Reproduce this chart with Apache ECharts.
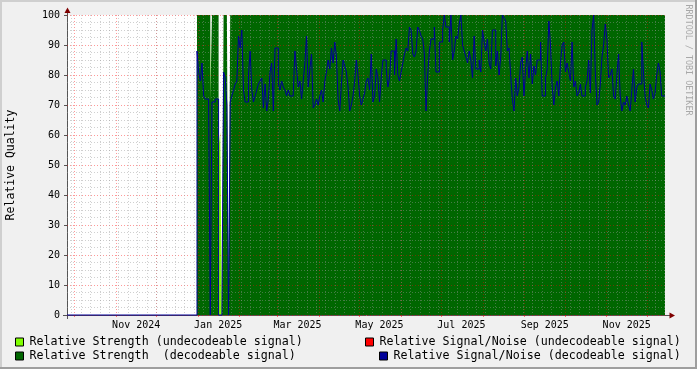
<!DOCTYPE html>
<html><head><meta charset="utf-8">
<script src="https://cdn.jsdelivr.net/npm/echarts@6/dist/echarts.min.js"></script>
<style>html,body{margin:0;padding:0;background:#F0F0F0}#c{width:697px;height:369px}</style>
</head><body><div id="c"></div>
<script>
// ---- time frame ----
const axisStart = '2024-09-25T12:00';
const axisEnd = '2025-12-14T12:00';
const firstSample = '2024-12-31T06:00';
const sampleHours = 29.64;

// ---- series values (one per sample) ----
const snBeforeData = 0;
const snDecodeable = [
 88,81,78,84,73,72,72,71,0,71,
 71,72,72,0,0,0,81,79,70,0,
 71,73,75,77,78,93,89,95,75,71,
 71,80,88,75,71,73,75,77,78,79,
 69,77,68,72,81,84,68,89,89,77,
 75,78,76,75,73,75,73,73,74,88,
 82,76,78,72,78,84,93,76,82,87,
 69,70,72,70,73,75,71,78,81,85,
 82,89,84,91,86,72,68,77,85,83,
 81,76,68,70,73,78,85,80,73,70,
 72,74,78,79,75,87,71,73,82,79,
 71,79,85,85,82,76,79,88,88,80,
 92,80,78,81,84,87,89,88,96,95,
 87,86,88,96,95,93,92,87,68,80,
 88,92,92,96,81,81,91,91,95,100,
 96,96,91,100,85,88,93,92,97,100,
 90,88,86,84,88,85,79,93,82,82,
 85,81,95,91,88,92,84,82,95,95,
 83,88,80,86,100,99,98,88,89,80,
 72,68,79,73,76,84,86,73,82,88,
 79,87,77,83,80,85,85,91,73,73,
 79,82,98,90,76,70,76,78,73,84,
 90,91,81,84,81,78,91,76,78,73,
 74,77,73,73,76,78,85,74,95,100,
 81,70,71,77,86,90,97,92,79,80,
 82,73,72,80,87,73,68,71,70,73,
 70,68,75,82,71,76,77,77,91,81,
 73,70,69,77,75,72,74,80,84,81,
 73,73
];
const strengthDecodeable = [
 100,100,100,100,100,100,100,100,71,100,
 100,100,100,0,0,0,100,100,100,0,
 100,100,100,100,100,100,100,100,100,100,
 100,100,100,100,100,100,100,100,100,100,
 100,100,100,100,100,100,100,100,100,100,
 100,100,100,100,100,100,100,100,100,100,
 100,100,100,100,100,100,100,100,100,100,
 100,100,100,100,100,100,100,100,100,100,
 100,100,100,100,100,100,100,100,100,100,
 100,100,100,100,100,100,100,100,100,100,
 100,100,100,100,100,100,100,100,100,100,
 100,100,100,100,100,100,100,100,100,100,
 100,100,100,100,100,100,100,100,100,100,
 100,100,100,100,100,100,100,100,100,100,
 100,100,100,100,100,100,100,100,100,100,
 100,100,100,100,100,100,100,100,100,100,
 100,100,100,100,100,100,100,100,100,100,
 100,100,100,100,100,100,100,100,100,100,
 100,100,100,100,100,100,100,100,100,100,
 100,100,100,100,100,100,100,100,100,100,
 100,100,100,100,100,100,100,100,100,100,
 100,100,100,100,100,100,100,100,100,100,
 100,100,100,100,100,100,100,100,100,100,
 100,100,100,100,100,100,100,100,100,100,
 100,100,100,100,100,100,100,100,100,100,
 100,100,100,100,100,100,100,100,100,100,
 100,100,100,100,100,100,100,100,100,100,
 100,100,100,100,100,100,100,100,100,100,
 100,100
];
const strengthUndecodeable = [
 0,0,0,0,0,0,0,0,100,0,
 0,0,0,56,61,0,0,0,0,0,
 0,0,0,0,0,0,0,0,0,0, 0,0,0,0,0,0,0,0,0,0,
 0,0,0,0,0,0,0,0,0,0, 0,0,0,0,0,0,0,0,0,0,
 0,0,0,0,0,0,0,0,0,0, 0,0,0,0,0,0,0,0,0,0,
 0,0,0,0,0,0,0,0,0,0, 0,0,0,0,0,0,0,0,0,0,
 0,0,0,0,0,0,0,0,0,0, 0,0,0,0,0,0,0,0,0,0,
 0,0,0,0,0,0,0,0,0,0, 0,0,0,0,0,0,0,0,0,0,
 0,0,0,0,0,0,0,0,0,0, 0,0,0,0,0,0,0,0,0,0,
 0,0,0,0,0,0,0,0,0,0, 0,0,0,0,0,0,0,0,0,0,
 0,0,0,0,0,0,0,0,0,0, 0,0,0,0,0,0,0,0,0,0,
 0,0,0,0,0,0,0,0,0,0, 0,0,0,0,0,0,0,0,0,0,
 0,0,0,0,0,0,0,0,0,0, 0,0,0,0,0,0,0,0,0,0,
 0,0,0,0,0,0,0,0,0,0, 0,0,0,0,0,0,0,0,0,0,
 0,0
];
const snUndecodeable = [];

// ---- axis ticks / labels ----
const monthStarts = ['2024-10-01','2024-11-01','2024-12-01','2025-01-01','2025-02-01','2025-03-01','2025-04-01','2025-05-01','2025-06-01','2025-07-01','2025-08-01','2025-09-01','2025-10-01','2025-11-01','2025-12-01'];
const labelDates = ['2024-11-16','2025-01-16','2025-03-16','2025-05-16','2025-07-16','2025-09-16','2025-11-16'];
const labelTexts = ['Nov 2024','Jan 2025','Mar 2025','May 2025','Jul 2025','Sep 2025','Nov 2025'];
const firstWeekLine = '2024-09-29';
const yTicks = [0,10,20,30,40,50,60,70,80,90,100];

const seriesNames = [
  'Relative Strength (undecodeable signal)',
  'Relative Strength  (decodeable signal)',
  'Relative Signal/Noise (undecodeable signal)',
  'Relative Signal/Noise (decodeable signal)'
];
const colors = ['#80FF00','#006600','#FF0000','#000099'];

function toTime(s){
  const m = s.match(/(\d+)-(\d+)-(\d+)(?:T(\d+):(\d+))?/);
  return new Date(+m[1], +m[2]-1, +m[3], m[4]?+m[4]:0, m[5]?+m[5]:0).getTime();
}
const tStart = toTime(axisStart), tEnd = toTime(axisEnd), t0 = toTime(firstSample);
const stepMs = sampleHours*3600000;
function build(vals, lead){
  const out = [];
  if (lead !== undefined) out.push([tStart, lead]);
  vals.forEach((v,i)=>out.push([t0 + i*stepMs, v]));
  if (vals.length) out.push([tEnd, vals[vals.length-1]]);
  return out;
}
const monthTimes = monthStarts.map(toTime);
const labelTimes = labelDates.map(toTime);
const weekTimes = [];
for (let t = toTime(firstWeekLine); t < tEnd; t += 7*86400000) weekTimes.push(t);

const mono = 'DejaVu Sans Mono';
const majorGrid = {color:'rgba(255,0,0,0.4)', type:[1,2], width:1};
const minorGrid = {color:'rgba(150,150,150,0.45)', type:[1,2], width:1};

function legendFor(name, left, top){
  return {data:[name], left:left, top:top, padding:0, icon:'rect', itemWidth:8, itemHeight:8,
    selectedMode:false, itemStyle:{borderColor:'#000', borderWidth:1},
    textStyle:{fontFamily:mono, fontSize:11.65, color:'#000', padding:[0,0,0,1]}};
}

const chart = echarts.init(document.getElementById('c'), null, {renderer:'canvas'});
chart.setOption({
  animation:false,
  backgroundColor:'#F0F0F0',
  grid:{left:67, top:15, width:598, height:300, show:true, backgroundColor:'#FFFFFF', borderWidth:0},
  xAxis:[{
    type:'value', min:tStart, max:tEnd, z:3, scale:true,
    axisLine:{show:false},
    axisTick:{show:true, customValues:monthTimes, length:2, lineStyle:{color:'rgba(255,0,0,0.5)'}},
    axisLabel:{customValues:labelTimes, hideOverlap:false, margin:5, fontFamily:mono, fontSize:10, color:'#000',
      showMinLabel:true, showMaxLabel:true,
      formatter:function(v){ let bi=0; labelTimes.forEach((t,i)=>{ if (Math.abs(t-v)<Math.abs(labelTimes[bi]-v)) bi=i; }); return labelTexts[bi]; }},
    splitLine:{show:true, lineStyle:majorGrid}
  },{
    type:'value', min:tStart, max:tEnd, z:3, scale:true, position:'bottom',
    axisLine:{show:false}, axisLabel:{show:false},
    axisTick:{show:false, customValues:weekTimes},
    splitLine:{show:true, lineStyle:minorGrid}
  }],
  yAxis:{
    type:'value', min:yTicks[0], max:yTicks[yTicks.length-1], interval:10, z:3,
    axisLine:{show:false},
    axisTick:{show:true, length:3, lineStyle:{color:'#555'}},
    axisLabel:{margin:7, fontFamily:mono, fontSize:10, color:'#000'},
    splitLine:{show:true, lineStyle:majorGrid},
    minorTick:{show:false, splitNumber:4},
    minorSplitLine:{show:true, lineStyle:minorGrid}
  },
  legend:[
    legendFor(seriesNames[0], 15, 336),
    legendFor(seriesNames[1], 15, 350),
    legendFor(seriesNames[2], 365, 336),
    legendFor(seriesNames[3], 379, 350)
  ],
  series:[
    {name:seriesNames[0], type:'line', step:'end', data:build(strengthUndecodeable), symbol:'none', silent:true, z:2,
      color:colors[0], itemStyle:{color:colors[0]}, lineStyle:{width:0}, areaStyle:{color:colors[0], opacity:1}},
    {name:seriesNames[1], type:'line', step:'end', data:build(strengthDecodeable), symbol:'none', silent:true, z:2,
      color:colors[1], itemStyle:{color:colors[1]}, lineStyle:{width:0}, areaStyle:{color:colors[1], opacity:1}},
    {name:seriesNames[2], type:'line', step:'end', data:build(snUndecodeable), symbol:'none', silent:true, z:4,
      color:colors[2], itemStyle:{color:colors[2]}, lineStyle:{width:1, color:colors[2]}},
    {name:seriesNames[3], type:'line', step:'end', data:build(snDecodeable, snBeforeData), symbol:'none', silent:true, z:4, clip:false,
      color:colors[3], itemStyle:{color:colors[3]}, lineStyle:{width:1, color:colors[3]}}
  ],
  graphic:[
    {type:'rect', z:1, silent:true, shape:{x:0,y:0,width:697,height:2}, style:{fill:'#CFCFCF'}},
    {type:'rect', z:1, silent:true, shape:{x:0,y:0,width:2,height:369}, style:{fill:'#CFCFCF'}},
    {type:'rect', z:1, silent:true, shape:{x:0,y:367,width:697,height:2}, style:{fill:'#9E9E9E'}},
    {type:'rect', z:1, silent:true, shape:{x:695,y:0,width:2,height:369}, style:{fill:'#9E9E9E'}},
    {type:'line', z:3, silent:true, shape:{x1:67.5,y1:319,x2:67.5,y2:12}, style:{stroke:'#555', lineWidth:1}},
    {type:'line', z:3, silent:true, shape:{x1:63,y1:315.5,x2:670,y2:315.5}, style:{stroke:'#555', lineWidth:1}},
    {type:'polygon', z:3, silent:true, shape:{points:[[67.5,7.5],[64.5,13],[70.5,13]]}, style:{fill:'#7F0000'}},
    {type:'polygon', z:3, silent:true, shape:{points:[[675,315.5],[669.5,312.5],[669.5,318.5]]}, style:{fill:'#7F0000'}},
    {type:'text', z:5, silent:true, x:11, y:165, rotation:Math.PI/2,
      style:{text:'Relative Quality', font:'11.5px "DejaVu Sans Mono"', fill:'#000', align:'center', verticalAlign:'middle'}},
    {type:'text', z:5, silent:true, x:688, y:60, rotation:-Math.PI/2,
      style:{text:'RRDTOOL / TOBI OETIKER', font:'8.4px "DejaVu Sans Mono"', fill:'#A8A8A8', align:'center', verticalAlign:'middle'}}
  ]
});
</script></body></html>
